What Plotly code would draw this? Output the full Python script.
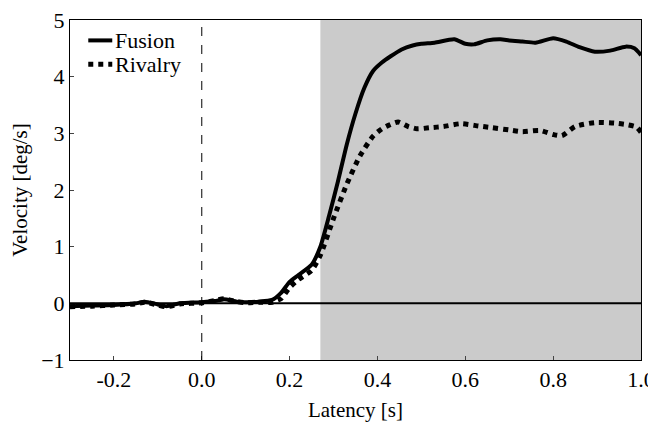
import plotly.graph_objects as go

# Latency [s] and velocity [deg/s]
fusion_t = [-0.30, -0.25, -0.20, -0.15, -0.13, -0.10, -0.08, -0.05, 0.00, 0.03, 0.05, 0.08, 0.10, 0.13, 0.16,
            0.18, 0.20, 0.22, 0.25, 0.27, 0.29, 0.31, 0.33, 0.35, 0.37, 0.39, 0.41, 0.43, 0.455, 0.48, 0.50,
            0.53, 0.575, 0.60, 0.62, 0.65, 0.68, 0.70, 0.73, 0.76, 0.80, 0.83, 0.86, 0.895, 0.93, 0.965, 0.985, 1.00]
fusion_v = [-0.05, -0.04, -0.03, 0.00, 0.03, -0.02, -0.05, 0.00, 0.02, 0.04, 0.07, 0.03, 0.02, 0.03, 0.06,
            0.18, 0.38, 0.50, 0.68, 1.00, 1.55, 2.15, 2.80, 3.35, 3.80, 4.10, 4.25, 4.36, 4.48, 4.55, 4.58,
            4.60, 4.66, 4.58, 4.57, 4.64, 4.66, 4.64, 4.62, 4.60, 4.68, 4.62, 4.52, 4.44, 4.46, 4.53, 4.50, 4.38]

rivalry_t = [-0.30, -0.25, -0.20, -0.15, -0.13, -0.10, -0.08, -0.05, 0.00, 0.03, 0.05, 0.08, 0.10, 0.13, 0.16,
             0.18, 0.20, 0.22, 0.25, 0.27, 0.30, 0.33, 0.36, 0.39, 0.41, 0.425, 0.447, 0.47, 0.49, 0.52,
             0.55, 0.59, 0.63, 0.66, 0.70, 0.73, 0.77, 0.80, 0.82, 0.85, 0.895, 0.94, 0.97, 0.99, 1.00]
rivalry_v = [-0.06, -0.05, -0.03, -0.01, 0.02, -0.03, -0.06, -0.01, 0.01, 0.05, 0.08, 0.03, 0.01, 0.02, 0.02,
             0.08, 0.28, 0.42, 0.58, 0.85, 1.50, 2.10, 2.60, 2.95, 3.08, 3.14, 3.20, 3.12, 3.08, 3.10,
             3.12, 3.17, 3.13, 3.10, 3.06, 3.03, 3.05, 2.98, 2.96, 3.12, 3.19, 3.18, 3.15, 3.11, 3.02]

series_names = ["Fusion", "Rivalry"]

x_ticks = [-0.2, 0.0, 0.2, 0.4, 0.6, 0.8, 1.0]
x_tick_text = ["-0.2", "0.0", "0.2", "0.4", "0.6", "0.8", "1.0"]
y_ticks = [-1, 0, 1, 2, 3, 4, 5]

shade_start = 0.27
x_range = [-0.3, 1.0]
y_range = [-1, 5]

font_family = "Times New Roman"

fig = go.Figure()

fusion_line = dict(color="black", width=4)
rivalry_line = dict(color="black", width=5, dash="dot")

fig.add_trace(go.Scatter(x=fusion_t, y=fusion_v, mode="lines", name=series_names[0],
                         line=dict(**fusion_line, shape="spline", smoothing=0.6)))
fig.add_trace(go.Scatter(x=rivalry_t, y=rivalry_v, mode="lines", name=series_names[1],
                         line=dict(**rivalry_line, shape="spline", smoothing=0.6)))

# shaded analysis window
fig.add_shape(type="rect", xref="x", yref="y", x0=shade_start, x1=x_range[1], y0=y_range[0], y1=y_range[1],
              fillcolor="#cbcbcb", line=dict(width=0), layer="below")
# zero line
fig.add_shape(type="line", xref="x", yref="y", x0=x_range[0], x1=x_range[1], y0=0, y1=0,
              line=dict(color="black", width=2))
# stimulus onset
fig.add_shape(type="line", xref="x", yref="y", x0=0, x1=0, y0=y_range[0], y1=y_range[1],
              line=dict(color="black", width=1, dash="dash"))

# compact legend drawn in the top-left corner (paper coordinates)
legend_rows = [(series_names[0], fusion_line, 0.94), (series_names[1], rivalry_line, 0.87)]
for name, ln, yy in legend_rows:
    fig.add_shape(type="line", xref="paper", yref="paper", x0=0.032, x1=0.074, y0=yy, y1=yy, line=ln)
    fig.add_annotation(xref="paper", yref="paper", x=0.075, y=yy, text=name, showarrow=False,
                       xanchor="left", yanchor="middle", font=dict(family=font_family, size=22, color="black"))

# page body has an 8px default margin, so the figure is sized to fit the window
fig.update_layout(
    width=648, height=415,
    margin=dict(l=62, r=15, t=12, b=63),
    paper_bgcolor="white", plot_bgcolor="white",
    font=dict(family=font_family, size=22, color="black"),
    showlegend=False,
)
fig.update_xaxes(range=x_range, tickvals=x_ticks, ticktext=x_tick_text, ticks="inside", ticklen=4,
                 showgrid=False, zeroline=False, showline=True, linecolor="black", linewidth=1, mirror=True,
                 automargin=False, ticklabeloverflow="allow",
                 title=dict(text="Latency [s]", font=dict(family=font_family, size=21), standoff=10),
                 tickfont=dict(family=font_family, size=22))
fig.update_yaxes(range=y_range, tickvals=y_ticks, ticks="inside", ticklen=4,
                 showgrid=False, zeroline=False, showline=True, linecolor="black", linewidth=1, mirror=True,
                 automargin=False, ticklabeloverflow="allow",
                 title=dict(text="Velocity [deg/s]", font=dict(family=font_family, size=21), standoff=10),
                 tickfont=dict(family=font_family, size=22))

fig.write_html("out.html")
